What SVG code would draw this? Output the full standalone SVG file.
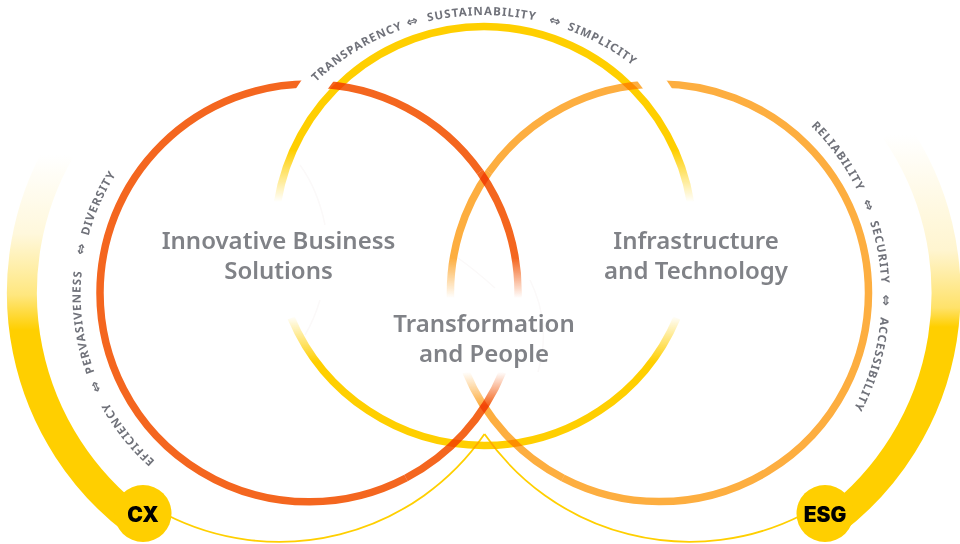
<svg xmlns="http://www.w3.org/2000/svg" width="960" height="544" viewBox="0 0 960 544">
<style>
.ring{fill:none;stroke-width:7.500;mix-blend-mode:multiply}
.thin{fill:none;stroke:#FFCF00;stroke-width:1.8}
.big{font-family:"Noto Sans","Liberation Sans",sans-serif;font-size:24px;font-weight:600;fill:#808287;text-anchor:middle}
.small{font-family:"Noto Sans","Liberation Sans",sans-serif;font-size:11.500px;font-weight:700;fill:#70727a;letter-spacing:1.05px}
.arr{font-family:"DejaVu Sans",sans-serif;font-weight:700;font-size:13.500px;fill:#70727a}
.tag{font-family:"Inter","Liberation Sans",sans-serif;font-size:21px;font-weight:900;fill:#000;text-anchor:middle}
.ghost{fill:none;stroke:#fbf9f9;stroke-width:1.500}
</style>
<defs>
<linearGradient id="fadeRedTop" gradientUnits="userSpaceOnUse" x1="0" y1="258" x2="0" y2="298"><stop offset="0" stop-color="#F4661F"/><stop offset="1" stop-color="#F4661F" stop-opacity="0"/></linearGradient>
<linearGradient id="fadeRedBot" gradientUnits="userSpaceOnUse" x1="0" y1="405" x2="0" y2="372"><stop offset="0" stop-color="#F4661F"/><stop offset="1" stop-color="#F4661F" stop-opacity="0"/></linearGradient>
<linearGradient id="fadeOrTop" gradientUnits="userSpaceOnUse" x1="0" y1="258" x2="0" y2="298"><stop offset="0" stop-color="#FDAE40"/><stop offset="1" stop-color="#FDAE40" stop-opacity="0"/></linearGradient>
<linearGradient id="fadeOrBot" gradientUnits="userSpaceOnUse" x1="0" y1="405" x2="0" y2="372"><stop offset="0" stop-color="#FDAE40"/><stop offset="1" stop-color="#FDAE40" stop-opacity="0"/></linearGradient>
<linearGradient id="fadeYTop" gradientUnits="userSpaceOnUse" x1="0" y1="150" x2="0" y2="202"><stop offset="0" stop-color="#FFCF00"/><stop offset="1" stop-color="#FFCF00" stop-opacity="0"/></linearGradient>
<linearGradient id="fadeYBot" gradientUnits="userSpaceOnUse" x1="0" y1="362" x2="0" y2="316"><stop offset="0" stop-color="#FFCF00"/><stop offset="1" stop-color="#FFCF00" stop-opacity="0"/></linearGradient>
<linearGradient id="fadeCx" gradientUnits="userSpaceOnUse" x1="0" y1="330" x2="0" y2="155"><stop offset="0" stop-color="#FFCF00"/><stop offset="0.2" stop-color="#FFE77F"/><stop offset="0.55" stop-color="#FFF8DC"/><stop offset="1" stop-color="#FFFFFF"/></linearGradient>
<linearGradient id="fadeEsg" gradientUnits="userSpaceOnUse" x1="0" y1="327" x2="0" y2="135"><stop offset="0" stop-color="#FFCF00"/><stop offset="0.1" stop-color="#FFE26A"/><stop offset="0.4" stop-color="#FFF5D0"/><stop offset="1" stop-color="#FFFFFF"/></linearGradient>
<path id="pLeft" d="M155 461A223 223 0 0 1 134 150"/>
<path id="pTop" d="M316 82A245 245 0 0 1 645 75.300"/>
<path id="pRight" d="M811 126A240 240 0 0 1 825 451"/>
</defs>

<g id="bands">
<path d="M136 522A287 287 0 0 1 60 150" fill="none" stroke="url(#fadeCx)" stroke-width="30"/>
<path d="M832 522A286.500 286.500 0 0 0 895 130" fill="none" stroke="url(#fadeEsg)" stroke-width="29"/>
</g>

<g id="connectors">
<path class="thin" d="M165 514A249 249 0 0 0 484.500 434"/>
<path class="thin" d="M484.500 434A249 249 0 0 0 803 514.500"/>
</g>

<g id="ghosts">
<path class="ghost" d="M300 165Q318 190 325 225"/>
<path class="ghost" d="M320 300Q314 320 305 335"/>
<path class="ghost" d="M458 258Q475 270 495 288"/>
<path class="ghost" d="M530 280Q552 325 538 372"/>
</g>

<g id="node-business">
<path class="ring" stroke="#F4661F" d="M312 84A209 209 0 0 0 100 293A209 209 0 0 0 406 478"/>
<path class="ring" stroke="url(#fadeRedBot)" d="M406 478A209 209 0 0 0 502.500 372"/>
<path class="ring" stroke="#F4661F" d="M312 84A209 209 0 0 1 480 172"/>
<path class="ring" stroke="url(#fadeRedTop)" d="M480 172A209 209 0 0 1 518 298"/>
<polygon points="303,78 295,90 327,90 336,78" fill="#fff"/>
<text class="big"><tspan x="278.500" y="249">Innovative Business</tspan><tspan x="278.500" y="279">Solutions</tspan></text>
</g>

<g id="node-infrastructure">
<path class="ring" stroke="#FDAE40" d="M657 84A209 209 0 0 1 868.500 293A209 209 0 0 1 563 478"/>
<path class="ring" stroke="url(#fadeOrBot)" d="M563 478A209 209 0 0 1 466 372"/>
<path class="ring" stroke="#FDAE40" d="M657 84A209 209 0 0 0 489 172"/>
<path class="ring" stroke="url(#fadeOrTop)" d="M489 172A209 209 0 0 0 450.500 298"/>
<polygon points="635,78 644,90 673,90 665,78" fill="#fff"/>
<text class="big"><tspan x="696" y="249">Infrastructure</tspan><tspan x="696" y="279">and Technology</tspan></text>
</g>

<g id="node-transformation">
<path class="ring" stroke="url(#fadeYTop)" d="M277.600 202A209.500 209.500 0 0 1 484 26.500A209.500 209.500 0 0 1 690.400 202"/>
<path class="ring" stroke="url(#fadeYBot)" d="M291.200 318A209.500 209.500 0 0 0 484 445.500A209.500 209.500 0 0 0 676.800 318"/>
<text class="big"><tspan x="484" y="332">Transformation</tspan><tspan x="484" y="362">and People</tspan></text>
</g>

<g id="labels">
<text class="small"><textPath href="#pTop">TRANSPARENCY</textPath></text>
<text class="arr"><textPath href="#pTop" startOffset="108">⇔</textPath></text>
<text class="small"><textPath href="#pTop" startOffset="128.700">SUSTAINABILITY</textPath></text>
<text class="arr"><textPath href="#pTop" startOffset="250">⇔</textPath></text>
<text class="small"><textPath href="#pTop" startOffset="269.800">SIMPLICITY</textPath></text>

<text class="small"><textPath href="#pLeft">EFFICIENCY</textPath></text>
<text class="arr"><textPath href="#pLeft" startOffset="89">⇔</textPath></text>
<text class="small"><textPath href="#pLeft" startOffset="108.600">PERVASIVENESS</textPath></text>
<text class="arr"><textPath href="#pLeft" startOffset="227">⇔</textPath></text>
<text class="small"><textPath href="#pLeft" startOffset="246.800">DIVERSITY</textPath></text>

<text class="small"><textPath href="#pRight">RELIABILITY</textPath></text>
<text class="arr"><textPath href="#pRight" startOffset="91.500">⇔</textPath></text>
<text class="small"><textPath href="#pRight" startOffset="114">SECURITY</textPath></text>
<text class="arr"><textPath href="#pRight" startOffset="187.500">⇔</textPath></text>
<text class="small"><textPath href="#pRight" startOffset="210">ACCESSIBILITY</textPath></text>
</g>

<g id="node-cx">
<circle cx="143" cy="513.500" r="28.500" fill="#FFCF00"/>
<text class="tag" x="143" y="522">CX</text>
</g>
<g id="node-esg">
<circle cx="825" cy="513.500" r="28.500" fill="#FFCF00"/>
<text class="tag" x="825" y="522">ESG</text>
</g>
</svg>
